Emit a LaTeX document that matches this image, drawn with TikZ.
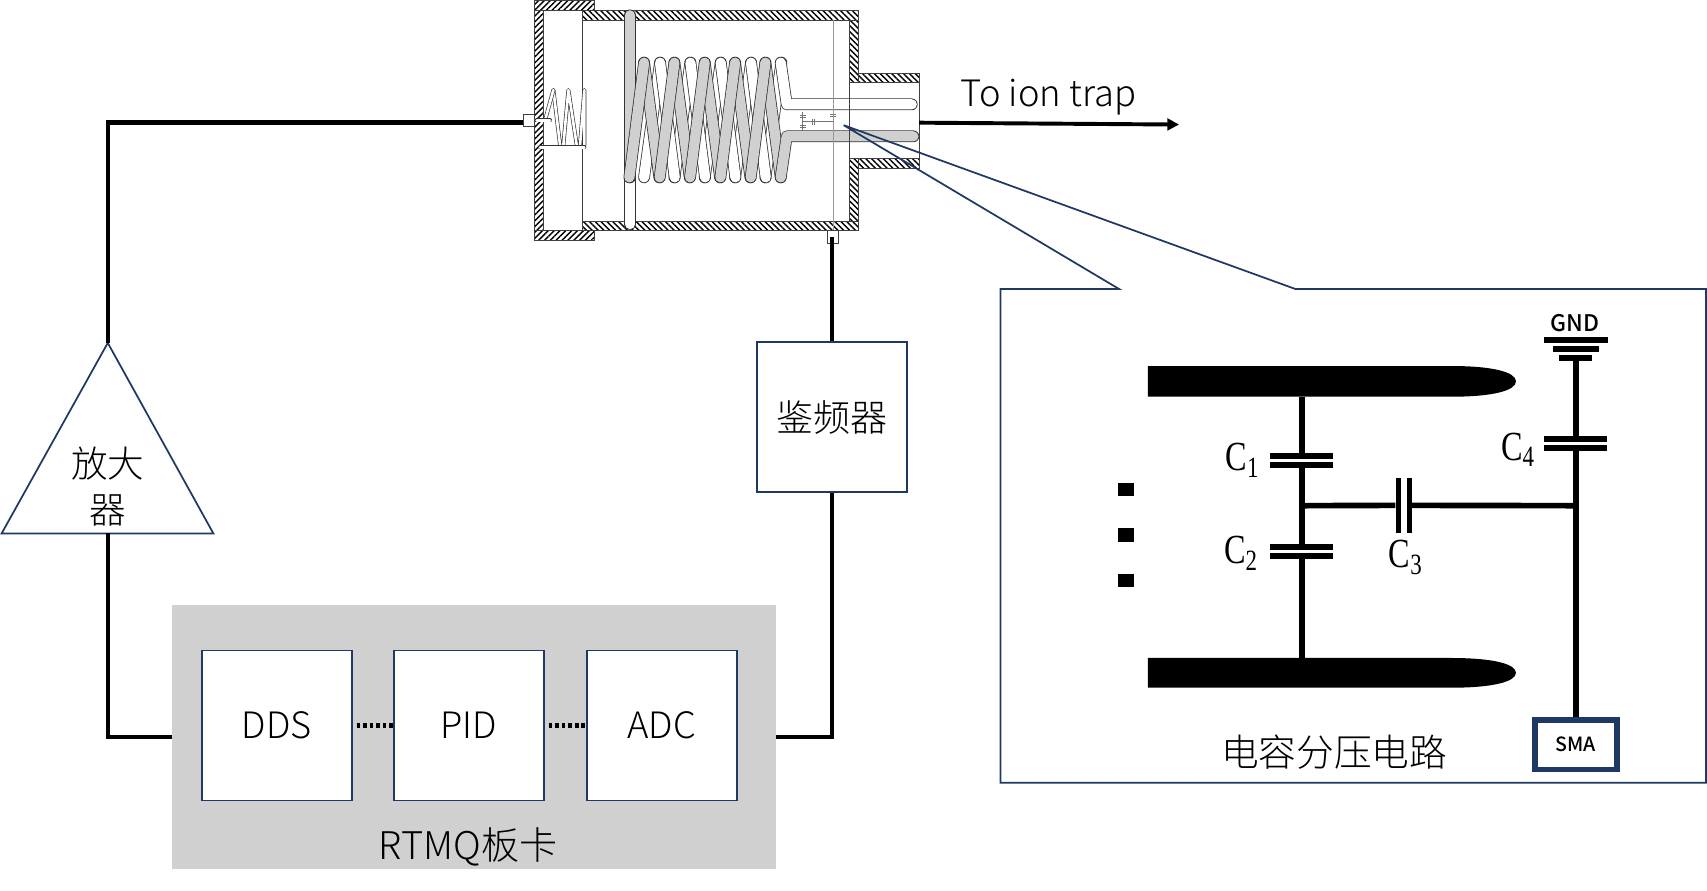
\documentclass[tikz,border=0pt]{standalone}
\usepackage{fontspec}
\setmainfont{Noto Sans CJK SC Light}
\newfontfamily\capfont{Liberation Serif}
\newfontfamily\medfont{Noto Sans CJK SC Medium}
\usetikzlibrary{patterns.meta,arrows.meta}

\definecolor{navy}{HTML}{1F3864}
\definecolor{boardgray}{HTML}{D0D0D0}
\newcommand{\cjksize}[1]{\fontsize{#1}{#1}\selectfont}
\newcommand{\caplabel}[1]{\scalebox{.78}[1]{\capfont\cjksize{38}C\raisebox{-6pt}{\cjksize{27}#1}}}

\tikzset{
  wire/.style={line width=4pt},
  thinwire/.style={line width=5.2pt},
  outline/.style={draw=navy,line width=1.6pt},
  blockbox/.style={outline,fill=white,minimum width=138pt,minimum height=138pt,font=\cjksize{33.4}},
  capbar/.style={fill=black,inner sep=0pt,minimum width=58pt,minimum height=5.2pt},
  capbarv/.style={fill=black,inner sep=0pt,minimum width=4.6pt,minimum height=50pt},
  hatchf/.style={draw=black!75,line width=.7pt,pattern={Lines[angle=45,distance=3.8pt,line width=1.3pt]}},
  hatchb/.style={draw=black!75,line width=.7pt,pattern={Lines[angle=-45,distance=3.8pt,line width=1.3pt]}},
  whitetube/.style={draw=black!80,double=white,line width=.7pt,double distance=9.4pt,line cap=round,line join=round},
  graytube/.style={draw=black!80,double=boardgray,line width=.7pt,double distance=9.4pt,line cap=round,line join=round},
  smalltube/.style={draw=black!80,double=white,line width=.6pt,double distance=2.4pt,line cap=round,line join=round},
  stubbox/.style={draw=black!75,fill=white,line width=.6pt,inner sep=0pt},
  tinycap/.style={draw=black!55,line width=.6pt}
}

\begin{document}
\begin{tikzpicture}[x=1pt,y=-1pt]
\useasboundingbox (0,0) rectangle (1568,817.6);

% le résonateur, en coordonnées du gros plan
\begin{scope}[shift={(477.7,0)},x=.3062pt,y=-.3062pt]
  \draw[hatchf] (44,2) rectangle (222,31);
  \draw[hatchf] (44,691) rectangle (222,720);
  \draw[hatchf] (44,31) rectangle (71,691);
  \draw[hatchb] (187,32) rectangle (1015,60);
  \draw[hatchb] (187,664) rectangle (1015,692);
  \draw[hatchb] (989,60) rectangle (1015,248);
  \draw[hatchb] (989,476) rectangle (1015,664);
  \draw[hatchb] (1015,220) rectangle (1197,248);
  \draw[hatchb] (1015,476) rectangle (1197,504);
  \draw[black!75,line width=.7pt] (187,31) -- (187,691);
  \draw[black!75,line width=.7pt] (1197,248) -- (1197,476);

  % la tige
  \draw[whitetube] (330,672) -- (330,532);
  \draw[graytube] (330,46) -- (330,532);

  % les spires
  \foreach \i in {0,...,4} {
    \draw[whitetube] (\i*91+372,532) -- (\i*91+420,188);
  }
  \foreach \i in {0,...,3} {
    \draw[whitetube] (\i*91+420,188) -- (\i*91+464,532);
  }
  \foreach \i in {0,...,4} {
    \draw[graytube] (\i*91+372,188) -- (\i*91+418,532);
  }
  \foreach \i in {0,...,4} {
    \draw[graytube] (\i*91+328,532) -- (\i*91+372,188);
  }

  % les électrodes
  \draw[whitetube] (782,188) -- (800,313) -- (1175,313);
  \draw[graytube] (782,532) -- (800,409) -- (1180,409);

  % les petits condensateurs
  \draw[tinycap] (848,335) -- (848,392) (848,365) -- (940,365);
  \foreach \ypos in {345,352,375,382} {
    \draw[tinycap] (840,\ypos) -- (857,\ypos);
  }
  \draw[tinycap] (878,356) -- (878,374) (884,356) -- (884,374);
  \draw[tinycap] (930,343) -- (949,343) (930,349) -- (949,349);

  \draw[black!75,line width=.7pt] (989,248) -- (989,476);
  \draw[black!40,line width=1pt] (940,60) -- (940,692);

  % l'entrée
  \draw[smalltube] (100,270) -- (120,435) (130,435) -- (145,270) -- (170,435) (180,435) -- (193,270) -- (193,435);
  \draw[smalltube] (75,361) -- (100,270);
  \draw[smalltube] (60,442) -- (193,442);
  \draw[smalltube] (50,361) -- (90,361);
  \node[stubbox,minimum width=10.4pt,minimum height=11.6pt] (rfIn) at (27,361) {};
  \node[stubbox,minimum width=10.4pt,minimum height=11.6pt] (pickup) at (938,711) {};
  \coordinate (rfPort) at (10,368);
  \coordinate (rfOut) at (1197,368);
\end{scope}

% les liaisons
\coordinate (ampTop) at (99,315);
\coordinate (ampLeft) at (1.5,490);
\coordinate (ampRight) at (196,490);
\coordinate (ampBase) at (99,490);
\node[align=center,font=\cjksize{33.6},inner sep=0pt] (ampText) at (99,447) {放大\\[8pt]器};
\draw[outline,line join=miter] (ampTop) -- (ampRight) -- (ampLeft) -- cycle;

\node[fill=boardgray,inner sep=0pt,minimum width=555pt,minimum height=242.5pt] (board) at (435.5,677.4) {};
\node[blockbox] (dds) at (254.3,666.4) {\raisebox{-.8pt}{DDS}};
\node[blockbox] (pid) at (430.7,666.4) {\raisebox{-.8pt}{PID}};
\node[blockbox] (adc) at (608,666.4) {\raisebox{-.8pt}{ADC}};
\node[font=\cjksize{35},inner sep=0pt] (boardName) at (430,778) {RTMQ板卡};
\node[blockbox,font=\cjksize{34}] (disc) at (764.3,383.2) {\raisebox{-1.5pt}{鉴频器}};

\draw[line width=4.4pt,dash pattern=on 3.4pt off 2.6pt,shorten <=3.5pt] (dds.east) -- (pid.west);
\draw[line width=4.4pt,dash pattern=on 3.4pt off 2.6pt,shorten <=3.5pt] (pid.east) -- (adc.west);

\draw[wire] (ampTop) |- (rfPort);
\draw[wire] (ampBase) |- (board.west |- 0,677);
\draw[wire] (board.east |- 0,677) -| (disc.south);
\draw[wire] (disc.north) -- (pickup.center -| disc.north);

\coordinate (arrowEnd) at (1083,114.4);
\draw[line width=3.6pt,-{Triangle[length=10.7pt,width=10.7pt]}] (rfOut) -- (arrowEnd);
\node[font=\cjksize{33.4},inner sep=0pt] (toTrap) at (963,89.5) {To ion trap};

% la bulle
\coordinate (calloutTip) at (775,115);
\draw[outline,line join=miter] (1028,265.5) -- (calloutTip) -- (1190,265.5) -- (1567,265.5) -- (1567,719) -- (919,719) -- (919,265.5) -- cycle;

% les électrodes en coupe
\fill (1054.5,336.2) -- (1333,336.2) .. controls (1372,336.2) and (1392.5,342) .. (1392.5,350.3) .. controls (1392.5,358.6) and (1372,364.4) .. (1333,364.4) -- (1054.5,364.4) -- cycle;
\fill (1054.5,604.4) -- (1333,604.4) .. controls (1372,604.4) and (1392.5,610) .. (1392.5,618) .. controls (1392.5,626) and (1372,631.7) .. (1333,631.7) -- (1054.5,631.7) -- cycle;
\coordinate (plateTop) at (1195.7,364.4);
\coordinate (plateBot) at (1195.7,604.4);
\coordinate (nodeLeft) at (1195.7,464.5);
\coordinate (nodeRight) at (1447.5,464.5);

\node[capbar] (caOne) at (1195.7,418.6) {};
\node[capbar] (caTwo) at (1195.7,427.3) {};
\node[capbar] (cbOne) at (1195.7,502.3) {};
\node[capbar] (cbTwo) at (1195.7,510.9) {};
\node[capbarv] (ccOne) at (1284.2,464.2) {};
\node[capbarv] (ccTwo) at (1294.5,464.2) {};
\node[capbar] (cdOne) at (1447.5,403.1) {};
\node[capbar] (cdTwo) at (1447.5,411.7) {};
\node[capbar,minimum width=59pt] (gndA) at (1447.5,312.5) {};
\node[capbar,minimum width=42pt] (gndB) at (1447.5,320.7) {};
\node[capbar,minimum width=30.4pt] (gndC) at (1447.5,329) {};
\node[inner sep=0pt,font=\medfont\cjksize{21}] (gndText) at (1447,296.6) {GND};

\node[draw=navy,line width=5pt,fill=white,minimum width=75.3pt,minimum height=45.5pt,inner sep=0pt,font=\medfont\cjksize{18}] (sma) at (1447.5,684) {\raisebox{-1pt}{SMA}};

\draw[thinwire] (plateTop) -- (caOne.north);
\draw[thinwire] (caTwo.south) -- (cbOne.north);
\draw[thinwire] (cbTwo.south) -- (plateBot);
\draw[thinwire] (nodeLeft) -- (ccOne.west);
\draw[thinwire] (ccTwo.east) -- (nodeRight);
\draw[thinwire] (gndC.south) -- (cdOne.north);
\draw[thinwire] (cdTwo.south) -- (sma.north);

\node[inner sep=0pt] (labelOne) at (1141,423) {\caplabel{1}};
\node[inner sep=0pt] (labelTwo) at (1139.5,508) {\caplabel{2}};
\node[inner sep=0pt] (labelThree) at (1291,512) {\caplabel{3}};
\node[inner sep=0pt] (labelFour) at (1394,413) {\caplabel{4}};

% les trois points
\foreach \ypos in {450,491.4,532.8} {
  \fill (1027,\ypos-6) rectangle (1041.6,\ypos+6);
}

\node[font=\cjksize{34.6},inner sep=0pt] (circuitName) at (1225.5,690.5) {电容分压电路};
\end{tikzpicture}
\end{document}
